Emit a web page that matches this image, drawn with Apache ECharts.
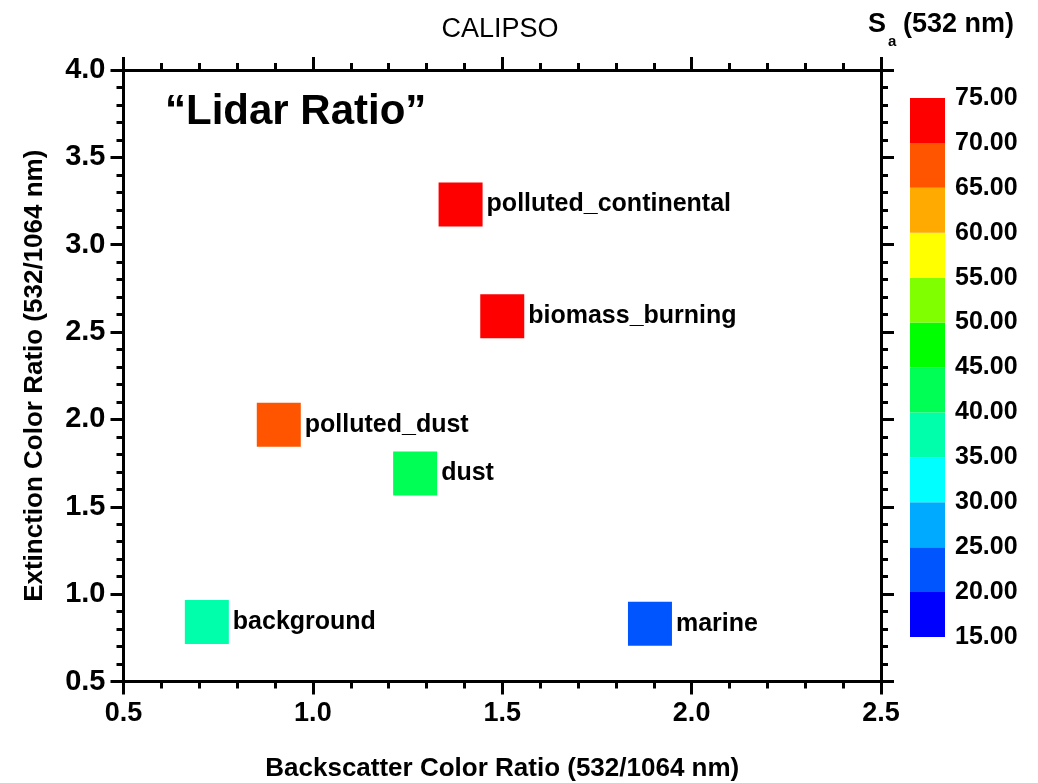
<!DOCTYPE html>
<html>
<head>
<meta charset="utf-8">
<title>CALIPSO lidar ratio</title>
<script src="https://cdn.jsdelivr.net/npm/echarts@6/dist/echarts.min.js"></script>
<style>
  html, body { margin: 0; padding: 0; background: #fff; }
  #main { width: 1038px; height: 783px; }
</style>
</head>
<body>
<div id="main"></div>
<script>
// aerosol types (CALIPSO)
var typeNames = ['polluted_continental', 'biomass_burning', 'polluted_dust', 'dust', 'background', 'marine'];
var backscatterRatio = [1.39, 1.50, 0.91, 1.27, 0.72, 1.89];
var extinctionRatio = [3.23, 2.59, 1.97, 1.69, 0.84, 0.83];
var lidarRatio = [70, 70, 65, 40, 35, 20];

// colour bar bins (Sa, 532 nm)
var binEdges = [15, 20, 25, 30, 35, 40, 45, 50, 55, 60, 65, 70, 75];
var binColors = ['#0000ff', '#0055ff', '#00aaff', '#00ffff', '#00ffaa', '#00ff55',
                 '#00ff00', '#80ff00', '#ffff00', '#ffaa00', '#ff5500', '#ff0000'];

var FONT = 'Liberation Sans, Arial, sans-serif';
var myChart = echarts.init(document.getElementById('main'), null, { renderer: 'canvas' });

var pts = [];
for (var i = 0; i < typeNames.length; i++) {
    pts.push({ name: typeNames[i], value: [backscatterRatio[i], extinctionRatio[i], lidarRatio[i]] });
}

var pieces = [];
var cbSeries = [];
for (var k = 0; k < binColors.length; k++) {
    pieces.push({ gte: binEdges[k], lt: binEdges[k + 1], color: binColors[k] });
    cbSeries.push({
        type: 'bar',
        xAxisIndex: 2,
        yAxisIndex: 2,
        stack: 'cb',
        barWidth: '100%',
        silent: true,
        itemStyle: { color: binColors[k] },
        data: [k === 0 ? binEdges[1] : binEdges[k + 1] - binEdges[k]]
    });
}

var lineStyle = { color: '#000', width: 3 };
function frameAxis(pos, extra) {
    var a = {
        gridIndex: 0,
        type: 'value',
        position: pos,
        interval: 0.5,
        axisLine: { show: true, onZero: false, lineStyle: lineStyle },
        axisTick: { show: true, inside: false, length: 13, lineStyle: lineStyle },
        minorTick: { show: true, splitNumber: 5, length: 7, lineStyle: lineStyle },
        splitLine: { show: false },
        axisLabel: { show: false }
    };
    for (var key in extra) a[key] = extra[key];
    return a;
}

option = {
    backgroundColor: '#fff',
    animation: false,
    textStyle: { fontFamily: FONT },
    grid: [
        { left: 123.5, right: 157, top: 70, bottom: 101.5, outerBoundsMode: 'none', containLabel: false },
        { left: 910, width: 35, top: 98, height: 539, outerBoundsMode: 'none', containLabel: false }
    ],
    visualMap: {
        type: 'piecewise',
        show: false,
        seriesIndex: 0,
        dimension: 2,
        pieces: pieces
    },
    xAxis: [
        frameAxis('bottom', {
            min: 0.5, max: 2.5,
            name: 'Backscatter Color Ratio (532/1064 nm)',
            nameLocation: 'middle',
            nameGap: 74,
            nameTextStyle: { fontSize: 26, fontWeight: 'bold', color: '#000', fontFamily: FONT },
            axisLabel: {
                show: true, margin: 19, fontSize: 27, fontWeight: 'bold', color: '#000', fontFamily: FONT,
                formatter: function (v) { return v.toFixed(1); }
            }
        }),
        frameAxis('top', { min: 0.5, max: 2.5 }),
        { gridIndex: 1, type: 'category', data: ['Sa'], show: false }
    ],
    yAxis: [
        frameAxis('left', {
            min: 0.5, max: 4.0,
            name: 'Extinction Color Ratio (532/1064 nm)',
            nameLocation: 'middle',
            nameGap: 76,
            nameTextStyle: { fontSize: 26, fontWeight: 'bold', color: '#000', fontFamily: FONT },
            axisLabel: {
                show: true, margin: 18, fontSize: 29, fontWeight: 'bold', color: '#000', fontFamily: FONT,
                formatter: function (v) { return v.toFixed(1); }
            }
        }),
        frameAxis('right', { min: 0.5, max: 4.0 }),
        {
            gridIndex: 1,
            type: 'value',
            position: 'right',
            min: 15, max: 75, interval: 5,
            axisLine: { show: false },
            axisTick: { show: false },
            splitLine: { show: false },
            axisLabel: {
                margin: 10, fontSize: 25, fontWeight: 'bold', color: '#000', fontFamily: FONT,
                formatter: function (v) { return v.toFixed(2); }
            }
        }
    ],
    graphic: [
        { type: 'text', x: 500, y: 30, style: { text: 'CALIPSO', fontSize: 27, fontFamily: FONT, fill: '#000', align: 'center', verticalAlign: 'middle' } },
        { type: 'text', x: 165, y: 112, style: { text: '\u201cLidar Ratio\u201d', fontSize: 42, fontWeight: 'bold', fontFamily: FONT, fill: '#000', align: 'left', verticalAlign: 'middle' } },
        { type: 'text', x: 868, y: 25, style: { text: 'S', fontSize: 27, fontWeight: 'bold', fontFamily: FONT, fill: '#000', align: 'left', verticalAlign: 'middle' } },
        { type: 'text', x: 888, y: 42, style: { text: 'a', fontSize: 15, fontWeight: 'bold', fontFamily: FONT, fill: '#000', align: 'left', verticalAlign: 'middle' } },
        { type: 'text', x: 903, y: 25, style: { text: '(532 nm)', fontSize: 27, fontWeight: 'bold', fontFamily: FONT, fill: '#000', align: 'left', verticalAlign: 'middle' } }
    ],
    series: [
        {
            type: 'scatter',
            xAxisIndex: 0,
            yAxisIndex: 0,
            symbol: 'rect',
            symbolSize: 44,
            itemStyle: { opacity: 1 },
            data: pts,
            label: {
                show: true,
                position: 'right',
                distance: 4,
                formatter: '{b}',
                fontSize: 25,
                fontWeight: 'bold',
                color: '#000',
                opacity: 1,
                fontFamily: FONT
            }
        }
    ].concat(cbSeries)
};
myChart.setOption(option);
</script>
</body>
</html>
